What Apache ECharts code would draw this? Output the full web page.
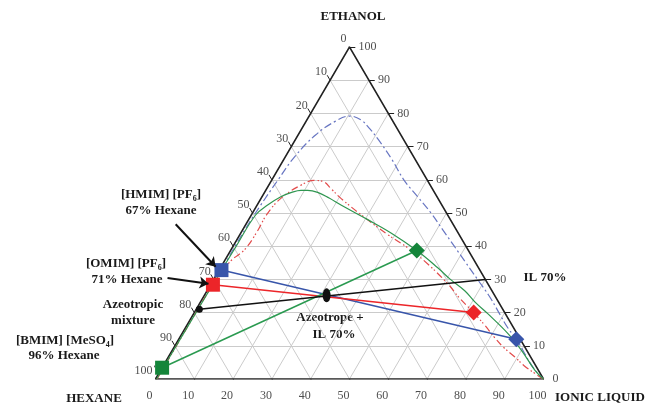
<!DOCTYPE html>
<html>
<head>
<meta charset="utf-8">
<script src="https://cdn.jsdelivr.net/npm/echarts@6/dist/echarts.min.js"></script>
<style>
html,body{margin:0;padding:0;background:#fff}
#chart{width:645px;height:404px}
</style>
</head>
<body>
<div id="chart"></div>
<script>
// compositions are [ionic liquid %, ethanol %], hexane = 100 - the two
var ticks = [0, 10, 20, 30, 40, 50, 60, 70, 80, 90, 100];

// binodal curves
var hmimCurve = [[0.6,33],[0.5,40],[0.6,46],[0.9,52],[1.6,60],[2.4,67],[4.5,73.5],[7.5,77.6],[10.4,79.2],[14,78],[17.5,75.4],[21.5,72],[28,66],[34,60],[40,55],[46,50],[51.5,45],[57,40],[62.5,35],[68,30],[73.5,25],[78.5,20],[83,15.5],[87,12],[91,8],[95,4],[99.5,0.3]];
var omimCurve = [[0.4,0],[0.4,14],[0.6,29],[1.6,35.5],[3.5,39],[4,44.5],[3.9,49.5],[5.1,54.4],[8.3,58.4],[11,59.8],[13.4,59.5],[17,57],[20.6,54.4],[28.2,49.5],[38.1,43.5],[45.3,39.5],[51.6,35.5],[61.1,28.6],[66,24.5],[72,20],[77,16],[81,12.6],[85,9.5],[89.2,6.7],[93,4],[96.9,1.7],[100,0]];
var bmimCurve = [[0.3,0],[0.3,4],[0.5,25],[0.8,40],[1.1,49.4],[2.7,52.4],[4.85,54.9],[7,56.2],[9.1,56.8],[10.8,56.8],[13.7,56.2],[17.5,54.5],[21.6,52.4],[30.7,48],[38.7,44],[48,38.7],[56,33.5],[61,30],[66.4,26.6],[71,23],[75.9,19.6],[84.1,13.6],[90,8.65],[96.4,2.7],[100,0]];

// tie lines: hexane-rich end (square) and IL-rich end (diamond)
var hmimTie = [[0.6,32.8],[87,12]];
var omimTie = [[0.6,28.4],[72,20]];
var bmimTie = [[0,3.4],[48,38.7]];

var azeotrope = [0.8,21];
var ilFeed = [70,30];
var mixture = [31.5,25.2];

// annotation arrows, start and tip
var arrows = [
  [[-18.1,46.6],[-1.4,33.8]],
  [[-12.1,30.4],[-0.7,28.7]],
  [[-14.7,7.8],[-2.1,3.7]]
];

var H = Math.sqrt(3) / 2;
function xy(p) { return [p[0] + p[1] / 2, p[1] * H]; }
function seg(a, b) { return {coords: [xy(a), xy(b)]}; }

var gridSegs = [], tickSegs = [];
ticks.forEach(function (k) {
  if (k > 0 && k < 100) {
    gridSegs.push(seg([0, k], [100 - k, k]));
    gridSegs.push(seg([k, 0], [k, 100 - k]));
    gridSegs.push(seg([100 - k, 0], [0, 100 - k]));
  }
  tickSegs.push(seg([100 - k, k], [101.5 - k, k]));
  tickSegs.push(seg([k, 0], [k + 1.5, -1.5]));
  tickSegs.push(seg([0, 100 - k], [-1.5, 101.5 - k]));
});

var serif = '"Liberation Serif", "Times New Roman", serif';

function tickLabels(pts, lab) {
  return {
    type: 'scatter', symbolSize: 0, silent: true,
    data: pts,
    label: Object.assign({show: true, position: 'inside', color: '#222', fontSize: 12, fontFamily: serif,
      formatter: function (p) { return p.data[2]; }}, lab)
  };
}

function curve(d, color, type, w) {
  return {type: 'line', data: d.map(xy), smooth: 0.4, symbol: 'none', silent: true,
    lineStyle: {color: color, width: w || 1.2, type: type}};
}
function tie(d, color) {
  return {type: 'line', data: d.map(xy), symbol: 'none', silent: true, lineStyle: {color: color, width: 1.5}};
}
function marker(p, color, sym, size) {
  return {type: 'scatter', data: [xy(p)], symbol: sym, symbolSize: size, silent: true, z: 5,
    itemStyle: {color: color, opacity: 1}};
}

var blue = '#3855aa', red = '#ec2529', green = '#14853a';

var bold = 'bold 13px ' + serif;
function txt(s, x, y, align) {
  return {type: 'text', x: x, y: y, style: {text: s, font: bold, fill: '#1a1a1a', align: align || 'center', verticalAlign: 'middle',
    rich: {s: {font: 'bold 8px ' + serif, fill: '#1a1a1a', verticalAlign: 'bottom', lineHeight: 10}, n: {font: bold, fill: '#1a1a1a', lineHeight: 16}}}};
}

var option = {
  animation: false,
  grid: {left: 155.5, top: 47, width: 388, height: 332},
  xAxis: {type: 'value', min: 0, max: 100, show: false},
  yAxis: {type: 'value', min: 0, max: 100 * H, show: false},
  series: [
    {type: 'lines', coordinateSystem: 'cartesian2d', silent: true, data: gridSegs, z: 1,
      lineStyle: {color: '#cbcbcb', width: 1, opacity: 1}},
    {type: 'lines', coordinateSystem: 'cartesian2d', silent: true, data: tickSegs, z: 2,
      lineStyle: {color: '#222', width: 1, opacity: 1}},
    {type: 'line', data: [[0,0],[100,0],[0,100],[0,0]].map(xy), symbol: 'none', silent: true, z: 2,
      lineStyle: {color: '#222', width: 1.5}},
    curve(hmimCurve, '#6876c2', [8, 3, 2, 3]),
    curve(omimCurve, '#e24a4a', [7, 3, 1.5, 2, 1.5, 3]),
    curve(bmimCurve, '#2f9650', 'solid'),
    tie(hmimTie, blue),
    tie(omimTie, red),
    tie(bmimTie, '#2a9a50'),
    tie([azeotrope, ilFeed], '#111'),
    marker(hmimTie[0], blue, 'rect', 14),
    marker(omimTie[0], red, 'rect', 14),
    marker(bmimTie[0], green, 'rect', 14),
    marker(hmimTie[1], blue, 'diamond', 16),
    marker(omimTie[1], red, 'diamond', 16),
    marker(bmimTie[1], green, 'diamond', 16),
    marker(azeotrope, '#111', 'circle', 7),
    marker(mixture, '#111', 'circle', [8, 14]),
    {type: 'lines', coordinateSystem: 'cartesian2d', silent: true, z: 6,
      data: arrows.map(function (a) { return seg(a[0], a[1]); }),
      symbol: ['none', 'arrow'], symbolSize: [0, 9],
      lineStyle: {color: '#111', width: 2, opacity: 1}},
    tickLabels(ticks.map(function (k) { return xy([100 - k, k]).concat(k); }), {align: 'left', offset: [9, 0]}),
    tickLabels(ticks.map(function (k) { return xy([k, 0]).concat(k); }), {align: 'center', offset: [-6, 17]}),
    tickLabels(ticks.map(function (k) { return xy([0, 100 - k]).concat(k); }), {align: 'right', offset: [-3, -8]})
  ],
  graphic: [
    txt('ETHANOL', 353, 17),
    txt('HEXANE', 94, 399),
    txt('IONIC LIQUID', 555, 398, 'left'),
    txt('{n|[HMIM] [PF}{s|6}{n|]}', 161, 195),
    txt('67% Hexane', 161, 211),
    txt('{n|[OMIM] [PF}{s|6}{n|]}', 126, 264),
    txt('71% Hexane', 127, 280),
    txt('Azeotropic', 133, 305),
    txt('mixture', 133, 321),
    txt('{n|[BMIM] [MeSO}{s|4}{n|]}', 65, 341),
    txt('96% Hexane', 64, 356),
    txt('Azeotrope +', 330, 318),
    txt('IL 70%', 334, 335),
    txt('IL 70%', 545, 278)
  ]
};

echarts.init(document.getElementById('chart')).setOption(option);
</script>
</body>
</html>
